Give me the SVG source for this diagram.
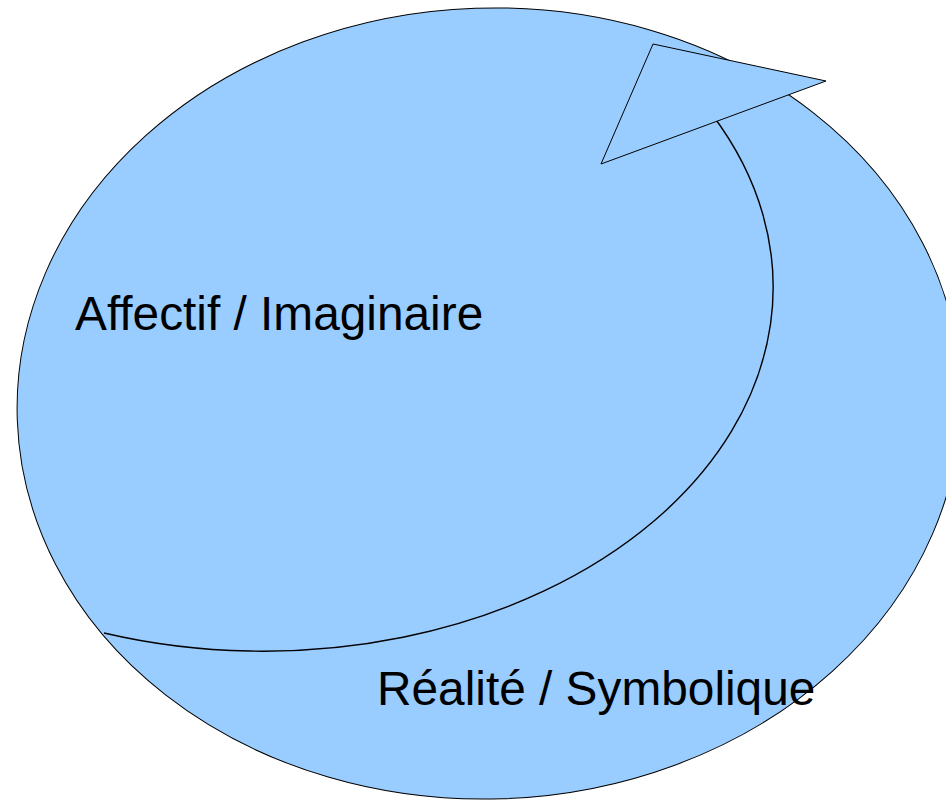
<svg xmlns="http://www.w3.org/2000/svg" width="946" height="800" viewBox="0 0 946 800">
  <style>
    .shape { fill: #99ccff; stroke: #000000; stroke-width: 1; }
    .line { fill: none; stroke: #000000; stroke-width: 1.4; }
    .label { font-family: "Liberation Sans", Arial, sans-serif; font-size: 47.8px; fill: #000000; }
  </style>
  <g id="realite">
    <ellipse class="shape" cx="489" cy="403.5" rx="472" ry="395.5" transform="rotate(-2 489 403.5)"/>
  </g>
  <g id="connectors">
    <path class="line" d="M104,633 A510,364 0 0 0 712.5,115"/>
  </g>
  <g id="arrowhead">
    <polygon class="shape" points="653,44 826,81 601,164"/>
  </g>
  <g id="affectif">
    <text class="label" x="75" y="330">Affectif / Imaginaire</text>
  </g>
  <g id="symbolique">
    <text class="label" x="377" y="705">Réalité / Symbolique</text>
  </g>
</svg>
